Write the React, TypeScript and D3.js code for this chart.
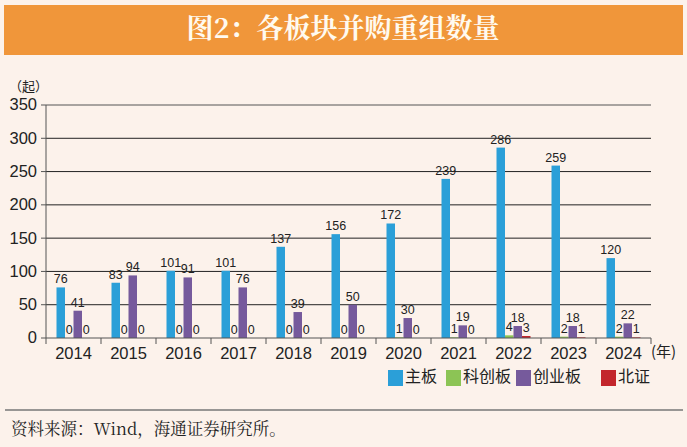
import React from "react";
import * as d3 from "d3";

const years = ["2014", "2015", "2016", "2017", "2018", "2019", "2020", "2021", "2022", "2023", "2024"];
const seriesNames = ["主板", "科创板", "创业板", "北证"];
const mainBoard = [76, 83, 101, 101, 137, 156, 172, 239, 286, 259, 120];
const starMarket = [0, 0, 0, 0, 0, 0, 1, 1, 4, 2, 2];
const chiNext = [41, 94, 91, 76, 39, 50, 30, 19, 18, 18, 22];
const bse = [0, 0, 0, 0, 0, 0, 0, 0, 3, 1, 1];
const yTicks = [0, 50, 100, 150, 200, 250, 300, 350];
const colors = ["#2b9fd8", "#8cc455", "#765a9c", "#c3262c"];

const seriesValues = [mainBoard, starMarket, chiNext, bse];

const W = 687;
const H = 447;
const SANS = "Arial, 'Liberation Sans', 'Noto Sans CJK SC', sans-serif";
const CJK = "'Noto Sans CJK SC', sans-serif";

export default function App() {
  const x = d3.scaleBand<string>().domain(years).range([46, 651]).padding(0);
  const groupW = 34;
  const inner = d3
    .scaleBand<string>()
    .domain(seriesNames)
    .range([(x.bandwidth() - groupW) / 2, (x.bandwidth() + groupW) / 2]);
  const y = d3.scaleLinear().domain([0, 350]).range([338, 105]);

  const legendX = [388, 446, 516, 601];

  return (
    <svg
      width={W}
      height={H}
      style={{ position: "absolute", left: 0, top: 0, display: "block" }}
    >
      <rect x={0} y={0} width={W} height={H} fill="#fcf2eb" />
      {/* Title banner */}
      <rect x={4} y={5} width={679} height={50} fill="#f0963a" />
      <text
        x={343}
        y={31}
        textAnchor="middle"
        dominantBaseline="middle"
        fill="#fffaf0"
        fontFamily="'Noto Serif CJK SC', 'Noto Sans CJK SC', serif"
        fontWeight="bold"
        fontSize={27}
      >
        图2：各板块并购重组数量
      </text>

      {/* unit */}
      <text x={9} y={87} dominantBaseline="middle" fontFamily={CJK} fontSize={13} fill="#222">
        （起）
      </text>

      {/* grid lines */}
      {yTicks.map((t) => (
        <g key={t}>
          {t > 0 && (
            <line x1={46} x2={651} y1={y(t)} y2={y(t)} stroke={t === 350 ? "#555" : "#222"} strokeWidth={1} />
          )}
          <line x1={41} x2={46} y1={y(t)} y2={y(t)} stroke="#555" />
          <text
            x={37}
            y={y(t) + 1}
            textAnchor="end"
            dominantBaseline="middle"
            fontFamily={SANS}
            fontSize={16.5}
            fill="#222"
          >
            {t}
          </text>
        </g>
      ))}

      {/* bars */}
      {seriesValues.map((vals, si) =>
        vals.map((v, i) => {
          const bx = (x(years[i]) as number) + (inner(seriesNames[si]) as number);
          const bw = inner.bandwidth();
          return (
            <g key={`${si}-${i}`}>
              <rect x={bx} y={y(v)} width={bw} height={y(0) - y(v)} fill={colors[si]} />
              <text
                x={bx + bw / 2}
                y={y(v) - 4}
                textAnchor="middle"
                fontFamily={SANS}
                fontSize={12.5}
                fill="#222"
              >
                {v}
              </text>
            </g>
          );
        })
      )}

      {/* axes */}
      <line x1={46} x2={46} y1={105} y2={338} stroke="#555" />
      <line x1={46} x2={651} y1={338} y2={338} stroke="#555" />
      {[...years.map((yr) => x(yr) as number), 651].map((tx, i) => (
        <line key={i} x1={tx} x2={tx} y1={338} y2={344} stroke="#555" />
      ))}
      {years.map((yr) => (
        <text
          key={yr}
          x={(x(yr) as number) + x.bandwidth() / 2}
          y={355}
          textAnchor="middle"
          dominantBaseline="middle"
          fontFamily={SANS}
          fontSize={16.5}
          fill="#222"
        >
          {yr}
        </text>
      ))}
      <text x={651} y={353} dominantBaseline="middle" fontFamily={CJK} fontSize={15} fill="#222">
        (年)
      </text>

      {/* legend */}
      {seriesNames.map((name, i) => (
        <g key={name}>
          <rect x={legendX[i]} y={370} width={15} height={16} fill={colors[i]} />
          <text
            x={legendX[i] + 17}
            y={378}
            dominantBaseline="middle"
            fontFamily={CJK}
            fontSize={16}
            fill="#222"
          >
            {name}
          </text>
        </g>
      ))}

      {/* footer */}
      <line x1={5} x2={683} y1={410} y2={410} stroke="#777" strokeWidth={1.5} />
      <text
        x={11}
        y={431}
        dominantBaseline="middle"
        fontFamily="'Noto Serif CJK SC', 'Liberation Serif', 'Noto Sans CJK SC', serif"
        fontSize={16.5}
        fill="#222"
      >
        资料来源：Wind，海通证券研究所。
      </text>
    </svg>
  );
}
